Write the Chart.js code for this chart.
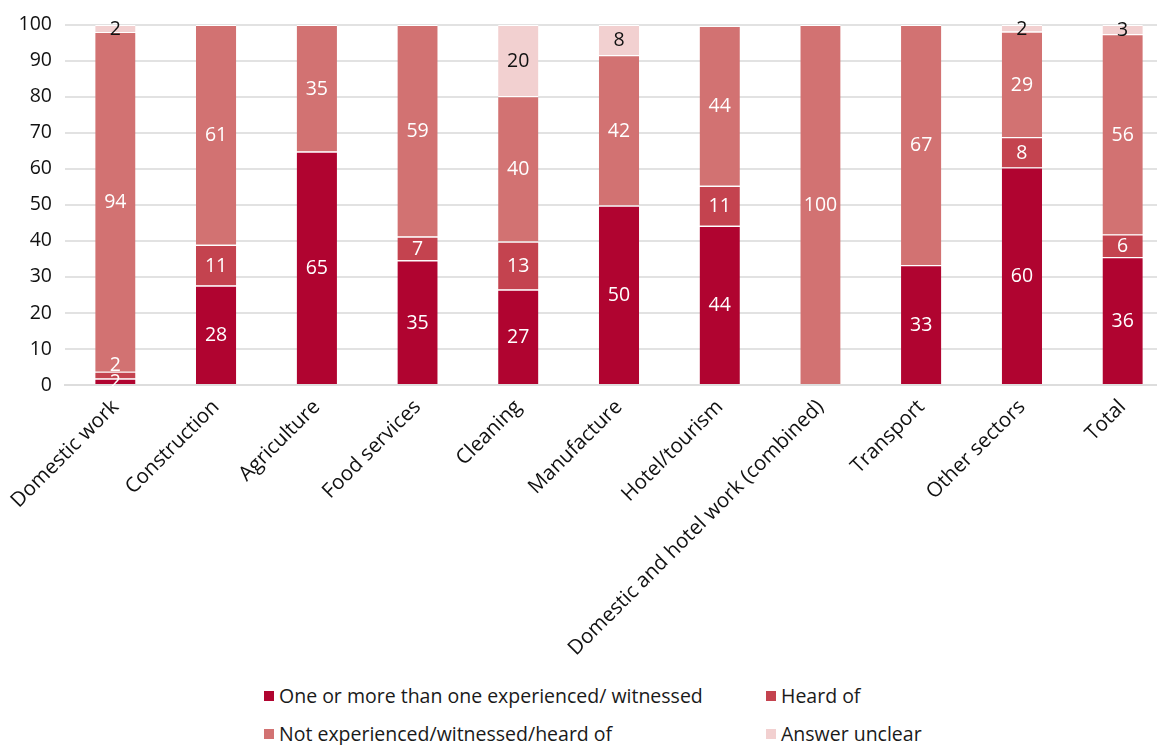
<!DOCTYPE html>
<html>
<head>
<meta charset="utf-8">
<script src="https://cdn.jsdelivr.net/npm/chart.js@4"></script>
<style>
  html, body { margin: 0; padding: 0; background: #fff; overflow: hidden; }
  #wrap { position: relative; width: 1173px; height: 665px; }
  #legend {
    position: absolute; left: 0; top: 682px; width: 1157px;
    font-family: "Open Sans", sans-serif; font-size: 19.5px; color: #1a1a1a;
  }
  .item { position: absolute; display: flex; align-items: center; white-space: nowrap; }
  .box { width: 10px; height: 10px; margin-right: 5px; }
</style>
</head>
<body>
<div id="wrap"><canvas id="chart"></canvas></div>
<div id="legend"></div>
<script>
const categories = [
  "Domestic work", "Construction", "Agriculture", "Food services", "Cleaning",
  "Manufacture", "Hotel/tourism", "Domestic and hotel work (combined)",
  "Transport", "Other sectors", "Total"
];
const seriesNames = [
  "One or more than one experienced/ witnessed",
  "Heard of",
  "Not experienced/witnessed/heard of",
  "Answer unclear"
];
// percentages; labels show them rounded
const experienced = [1.8, 27.6, 64.8, 34.6, 26.5, 49.8, 44.2, 0, 33.3, 60.4, 35.5];
const heardOf = [1.9, 11.3, 0, 6.6, 13.3, 0, 11.1, 0, 0, 8.4, 6.3];
const notExperienced = [94.3, 61.1, 35.2, 58.8, 40.4, 41.8, 44.4, 100, 66.7, 29.3, 55.6];
const unclear = [2.0, 0, 0, 0, 19.8, 8.4, 0, 0, 0, 1.9, 2.6];
const yTicks = [0, 10, 20, 30, 40, 50, 60, 70, 80, 90, 100];

const colors = ["#b00430", "#c4434f", "#d27272", "#f2d0d0"];
const labelColors = ["#ffffff", "#ffffff", "#ffffff", "#111111"];
const allSeries = [experienced, heardOf, notExperienced, unclear];

const FONT = "'Open Sans', sans-serif";

// draws the rounded numbers in the middle of each segment,
// pushing a label up when it would sit on the one below it
const segmentLabels = {
  id: "segmentLabels",
  afterDatasetsDraw(chart) {
    const ctx = chart.ctx;
    const lastY = {};
    ctx.save();
    ctx.font = "19.5px " + FONT;
    ctx.textAlign = "center";
    ctx.textBaseline = "middle";
    chart.data.datasets.forEach((ds, i) => {
      const meta = chart.getDatasetMeta(i);
      meta.data.forEach((bar, j) => {
        const v = ds.data[j];
        if (!v) return;
        let y = (bar.y + bar.base) / 2 + 1;
        if (lastY[j] !== undefined && y > lastY[j] - 17) y = lastY[j] - 17;
        lastY[j] = y;
        ctx.fillStyle = labelColors[i];
        ctx.fillText(String(Math.round(v)), bar.x, y);
      });
    });
    ctx.restore();
  }
};

const ctx = document.getElementById("chart").getContext("2d");
const chart = new Chart(ctx, {
  type: "bar",
  data: {
    labels: categories,
    datasets: allSeries.map((values, i) => ({
      label: seriesNames[i],
      data: values,
      backgroundColor: colors[i],
      borderColor: "#ffffff",
      borderWidth: { top: 1.2, bottom: 0, left: 0, right: 0 },
      borderSkipped: false,
      barPercentage: 0.8,
      categoryPercentage: 0.5
    }))
  },
  options: {
    responsive: true,
    maintainAspectRatio: false,
    animation: false,
    layout: { padding: { top: 13, left: 0, right: 0, bottom: 0 } },
    plugins: {
      legend: { display: false },
      tooltip: { enabled: false }
    },
    scales: {
      x: {
        stacked: true,
        grid: { display: false },
        border: { display: true, color: "#dddddd", width: 2 },
        ticks: {
          color: "#111",
          font: { family: FONT, size: 20.5 },
          maxRotation: 45,
          minRotation: 45,
          autoSkip: false,
          padding: 2
        },
        afterFit(scale) { scale.height = 280; }
      },
      y: {
        stacked: true,
        min: 0,
        max: 100,
        afterBuildTicks(scale) { scale.ticks = yTicks.map(v => ({ value: v })); },
        grid: { color: "#e2e2e2", lineWidth: 2, drawTicks: false },
        border: { display: false },
        ticks: {
          color: "#111",
          font: { family: FONT, size: 19.5 },
          padding: 13
        },
        afterFit(scale) { scale.width = 65; }
      }
    }
  },
  plugins: [segmentLabels]
});

// legend in two columns, like the original
const legend = document.getElementById("legend");
const spots = [[264, 0], [766, 0], [264, 38], [766, 38]];
seriesNames.forEach((name, i) => {
  const el = document.createElement("div");
  el.className = "item";
  el.style.left = spots[i][0] + "px";
  el.style.top = spots[i][1] + "px";
  el.innerHTML = '<span class="box" style="background:' + colors[i] + '"></span>' + name;
  legend.appendChild(el);
});
</script>
</body>
</html>
